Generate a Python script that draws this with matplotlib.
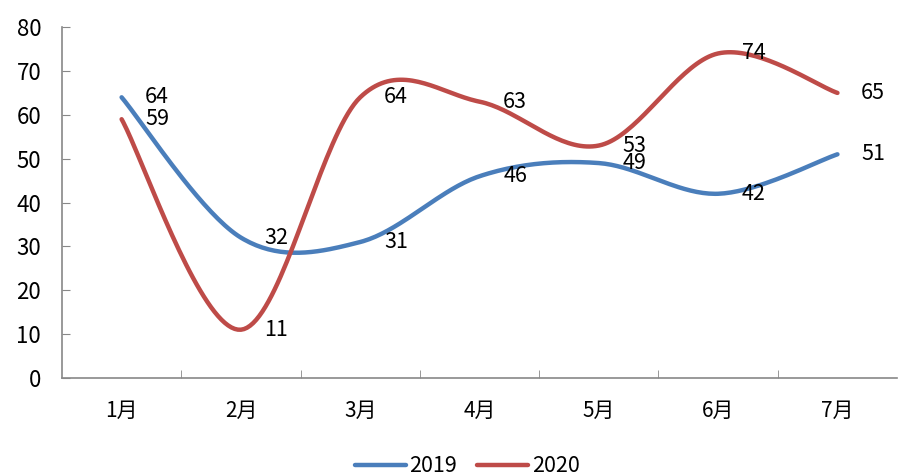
import numpy as np
import matplotlib.pyplot as plt

plt.rcParams['font.family'] = ['Noto Sans CJK SC', 'DejaVu Sans']

months = ['1月', '2月', '3月', '4月', '5月', '6月', '7月']
y2019 = [64, 32, 31, 46, 49, 42, 51]
y2020 = [59, 11, 64, 63, 53, 74, 65]


def smooth(xs, ys, n=40):
    # Catmull-Rom style smoothing like an office chart's "smoothed line"
    xs = np.asarray(xs, float)
    ys = np.asarray(ys, float)
    px = np.concatenate([[xs[0]], xs, [xs[-1]]])
    py = np.concatenate([[ys[0]], ys, [ys[-1]]])
    ox, oy = [], []
    for i in range(1, len(px) - 2):
        p0, p1, p2, p3 = (np.array([px[j], py[j]]) for j in range(i - 1, i + 3))
        c1 = p1 + (p2 - p0) / 6
        c2 = p2 - (p3 - p1) / 6
        t = np.linspace(0, 1, n)[:, None]
        b = ((1 - t) ** 3) * p1 + 3 * ((1 - t) ** 2) * t * c1 + 3 * (1 - t) * t ** 2 * c2 + t ** 3 * p2
        ox.extend(b[:, 0])
        oy.extend(b[:, 1])
    return ox, oy


fig = plt.figure(figsize=(8.98, 4.76), dpi=100)
ax = fig.add_axes([0.069, 0.206, 0.93, 0.737])

x = np.arange(len(months))
for vals, color, name in [(y2019, '#4a7ebb', '2019'), (y2020, '#be4b48', '2020')]:
    sx, sy = smooth(x, vals)
    ax.plot(sx, sy, color=color, linewidth=3.2, solid_capstyle='round', label=name)
    for xi, v in zip(x, vals):
        ax.annotate(str(v), (xi, v), xytext=(17, 0), textcoords='offset points',
                    ha='left', va='center', fontsize=15.5)

ax.set_xlim(-0.5, 6.5)
ax.set_ylim(0, 80)
ax.set_yticks(range(0, 81, 10))
ax.set_xticks(x)
ax.set_xticklabels(months, fontsize=15)
ax.set_xticks(np.arange(0.5, 6.5, 1), minor=True)
ax.tick_params(axis='x', which='major', length=0, pad=16)
ax.tick_params(axis='x', which='minor', length=6, color='#888888', direction='in')
ax.tick_params(axis='y', labelsize=16, length=6, color='#888888', direction='in', pad=15)

for s in ['top', 'right']:
    ax.spines[s].set_visible(False)
for s in ['left', 'bottom']:
    ax.spines[s].set_color('#888888')
    ax.spines[s].set_linewidth(1.2)

ax.legend(loc='upper center', bbox_to_anchor=(0.485, -0.165), ncol=2, frameon=False,
          fontsize=15.5, handlelength=2.4, handletextpad=0.15, columnspacing=0.9)

fig.savefig('out.png', dpi=100)
